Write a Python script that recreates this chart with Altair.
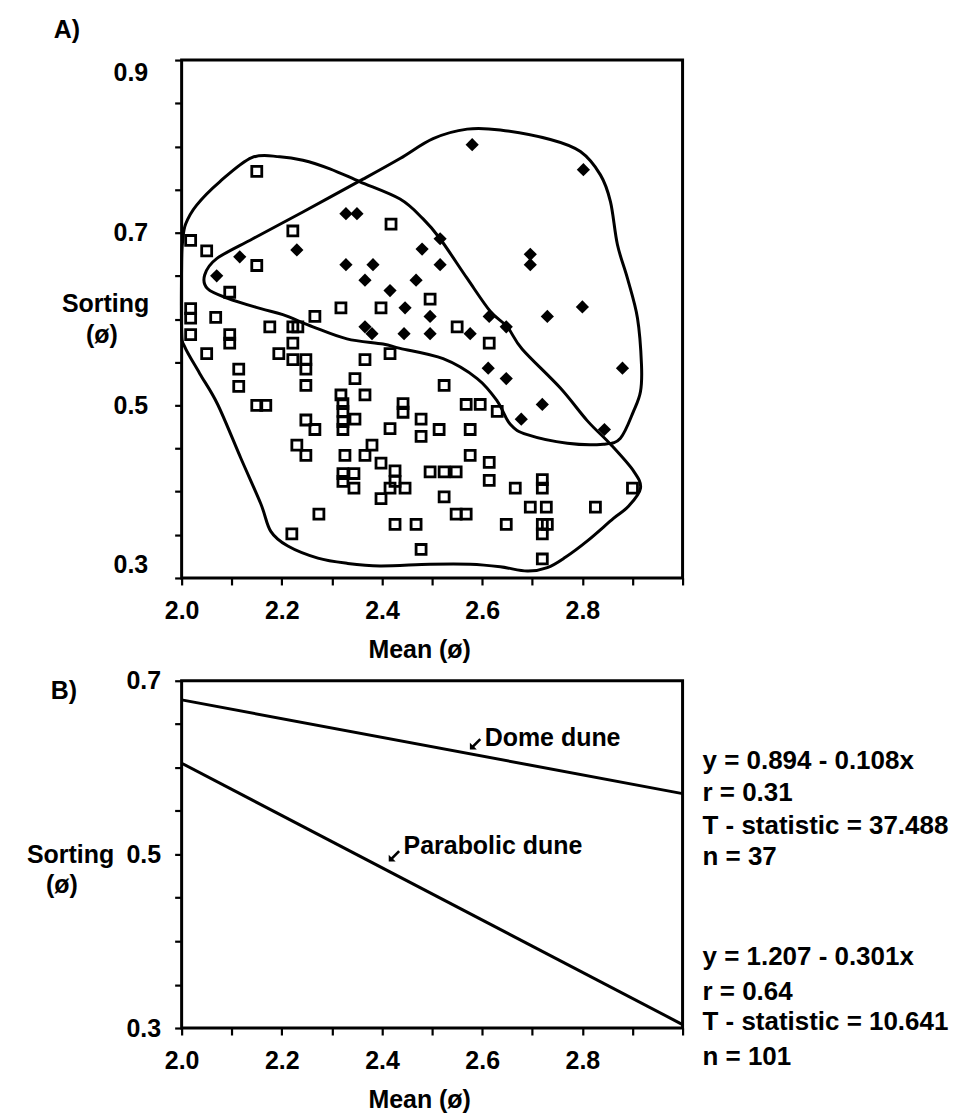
import altair as alt
import pandas as pd

# ---------------- Panel A data ----------------
par_x = [2.150, 2.018, 2.050, 2.222, 2.418, 2.150, 2.096, 2.018, 2.018, 2.018,
         2.068, 2.096, 2.096, 2.050, 2.176, 2.222, 2.232, 2.266, 2.318, 2.398,
         2.496, 2.222, 2.194, 2.222, 2.248, 2.114, 2.114, 2.150, 2.168, 2.248,
         2.248, 2.366, 2.416, 2.550, 2.614, 2.346, 2.366, 2.318, 2.322, 2.322,
         2.346, 2.322, 2.442, 2.442, 2.478, 2.478, 2.248, 2.266, 2.230, 2.248,
         2.326, 2.366, 2.380, 2.416, 2.398, 2.322, 2.344, 2.322, 2.344, 2.426,
         2.426, 2.446, 2.416, 2.398, 2.496, 2.274, 2.220, 2.426, 2.468, 2.478,
         2.514, 2.576, 2.524, 2.568, 2.596, 2.630, 2.576, 2.614, 2.614, 2.666,
         2.524, 2.548, 2.524, 2.548, 2.568, 2.648, 2.720, 2.720, 2.696, 2.728,
         2.720, 2.730, 2.720, 2.720, 2.826, 2.900, 2.322]
par_y = [0.771, 0.691, 0.679, 0.702, 0.710, 0.662, 0.631, 0.612, 0.601, 0.582,
         0.602, 0.582, 0.572, 0.560, 0.591, 0.591, 0.591, 0.603, 0.613, 0.613,
         0.623, 0.572, 0.560, 0.553, 0.553, 0.542, 0.522, 0.500, 0.500, 0.542,
         0.523, 0.553, 0.560, 0.591, 0.572, 0.531, 0.512, 0.512, 0.502, 0.493,
         0.484, 0.472, 0.502, 0.492, 0.484, 0.464, 0.483, 0.472, 0.454, 0.442,
         0.442, 0.442, 0.454, 0.473, 0.433, 0.421, 0.421, 0.412, 0.404, 0.424,
         0.412, 0.404, 0.404, 0.392, 0.423, 0.374, 0.351, 0.362, 0.362, 0.333,
         0.472, 0.472, 0.523, 0.501, 0.501, 0.493, 0.442, 0.434, 0.413, 0.404,
         0.423, 0.423, 0.394, 0.374, 0.374, 0.362, 0.414, 0.404, 0.382, 0.382,
         0.362, 0.362, 0.351, 0.322, 0.382, 0.404, 0.481]

dome_x = [2.580, 2.802, 2.328, 2.350, 2.516, 2.480, 2.230, 2.116, 2.070, 2.328,
          2.382, 2.516, 2.696, 2.696, 2.366, 2.468, 2.416, 2.446, 2.496, 2.614,
          2.648, 2.730, 2.800, 2.366, 2.380, 2.444, 2.496, 2.576, 2.612, 2.648,
          2.720, 2.678, 2.880, 2.844]
dome_y = [0.802, 0.773, 0.722, 0.722, 0.693, 0.681, 0.680, 0.672, 0.650, 0.663,
          0.663, 0.663, 0.675, 0.663, 0.645, 0.645, 0.633, 0.613, 0.603, 0.603,
          0.591, 0.603, 0.614, 0.591, 0.583, 0.583, 0.583, 0.583, 0.543, 0.531,
          0.501, 0.484, 0.543, 0.472]

# hand-drawn envelopes (traced)
par_env_x = [2.002, 2.008, 2.030, 2.076, 2.140, 2.196, 2.242, 2.296, 2.356, 2.436,
             2.482, 2.516, 2.570, 2.616, 2.650, 2.680, 2.756, 2.810, 2.856, 2.902,
             2.916, 2.892, 2.862, 2.810, 2.766, 2.730, 2.690, 2.636, 2.576, 2.496,
             2.396, 2.330, 2.272, 2.212, 2.178, 2.158, 2.118, 2.072, 2.036, 2.006,
             2.000, 2.000]
par_env_y = [0.690, 0.710, 0.732, 0.759, 0.787, 0.788, 0.784, 0.774, 0.759, 0.739,
             0.716, 0.693, 0.647, 0.609, 0.591, 0.565, 0.520, 0.482, 0.455, 0.424,
             0.404, 0.383, 0.369, 0.343, 0.324, 0.312, 0.308, 0.313, 0.316, 0.316,
             0.314, 0.317, 0.323, 0.337, 0.354, 0.386, 0.439, 0.501, 0.537, 0.568,
             0.586, 0.666]

dome_env_x = [2.046, 2.070, 2.142, 2.242, 2.362, 2.436, 2.502, 2.570, 2.636, 2.736,
              2.796, 2.836, 2.856, 2.870, 2.890, 2.910, 2.918, 2.916, 2.902, 2.876,
              2.842, 2.770, 2.690, 2.656, 2.630, 2.590, 2.522, 2.436, 2.402, 2.330,
              2.262, 2.202, 2.158, 2.092, 2.052]
dome_env_y = [0.651, 0.670, 0.693, 0.724, 0.762, 0.786, 0.809, 0.820, 0.819, 0.808,
              0.794, 0.767, 0.736, 0.686, 0.647, 0.601, 0.547, 0.516, 0.493, 0.462,
              0.455, 0.456, 0.466, 0.478, 0.505, 0.531, 0.554, 0.566, 0.571, 0.577,
              0.591, 0.605, 0.612, 0.624, 0.635]

# ---------------- Panel B data ----------------
line_x = [2.0, 3.0]
dome_line_y = [0.678, 0.570]
par_line_y = [0.605, 0.304]

stats_dome = ["y = 0.894 - 0.108x", "r = 0.31", "T - statistic = 37.488", "n = 37"]
stats_par = ["y = 1.207 - 0.301x", "r = 0.64", "T - statistic = 10.641", "n = 101"]

# ---------------- ticks ----------------
x_ticks = [2.0, 2.1, 2.2, 2.3, 2.4, 2.5, 2.6, 2.7, 2.8, 2.9, 3.0]
x_labels = [2.0, 2.2, 2.4, 2.6, 2.8]
ya_ticks = [0.3, 0.35, 0.4, 0.45, 0.5, 0.55, 0.6, 0.65, 0.7, 0.75, 0.8, 0.85, 0.9]
ya_labels = [0.3, 0.5, 0.7, 0.9]
yb_ticks = [0.3, 0.35, 0.4, 0.45, 0.5, 0.55, 0.6, 0.65, 0.7]
yb_labels = [0.3, 0.5, 0.7]

FONT = "Liberation Sans"
FW = "bold"
FS = 25
W = 502
HA = 519
HB = 348

ARROW = ("M-1,1 L-1,-0.1 L-0.6,0.3 L0.5,-0.8 L0.8,-0.5 "
         "L-0.3,0.6 L0.1,1 Z")


def lab_expr(labels, mult):
    arr = "[" + ",".join(repr(v) for v in labels) + "]"
    return (f"indexof({arr}, round(datum.value*{mult})/{mult}) >= 0 ? "
            f"format(datum.value, '.1f') : ''")


def xaxis(title_pad):
    return alt.Axis(values=x_ticks, labelExpr=lab_expr(x_labels, 10), title="Mean (ø)",
                    grid=False, domain=False, tickSize=7, tickWidth=2.2, tickColor="black",
                    labelFontSize=FS, labelFontWeight=FW, labelColor="black",
                    labelPadding=14, labelFlush=False, labelOverlap=False,
                    titleFontSize=FS, titleFontWeight=FW, titleColor="black",
                    titlePadding=title_pad, titleX=238)


def yaxis(ticks, labels, pad, flush):
    return alt.Axis(values=ticks, labelExpr=lab_expr(labels, 100), title=None,
                    grid=False, domain=False, tickSize=7, tickWidth=2.2, tickColor="black",
                    labelFontSize=FS, labelFontWeight=FW, labelColor="black",
                    labelPadding=pad, labelFlush=flush, labelOverlap=False)


xs = alt.Scale(domain=[2.0, 3.0], nice=False, zero=False)
ysa = alt.Scale(domain=[0.3, 0.9], nice=False, zero=False)
ysb = alt.Scale(domain=[0.3, 0.7], nice=False, zero=False)

XA = alt.X("x:Q", scale=xs, axis=xaxis(14))
YA = alt.Y("y:Q", scale=ysa, axis=yaxis(ya_ticks, ya_labels, 27, True))

# ---------------- Panel A ----------------
df_par = pd.DataFrame({"x": par_x, "y": par_y})
df_dome = pd.DataFrame({"x": dome_x, "y": dome_y})
df_env = pd.concat([
    pd.DataFrame({"x": par_env_x, "y": par_env_y, "g": "par", "o": range(len(par_env_x))}),
    pd.DataFrame({"x": dome_env_x, "y": dome_env_y, "g": "dome", "o": range(len(dome_env_x))}),
])

envs = alt.Chart(df_env).mark_line(interpolate="cardinal-closed", color="black",
                                   strokeWidth=3).encode(
    x=XA, y=YA, detail="g:N", order="o:Q")
squares = alt.Chart(df_par).mark_point(shape="square", filled=False, color="black",
                                       strokeWidth=2.8, size=100, opacity=1).encode(x=XA, y=YA)
diamonds = alt.Chart(df_dome).mark_point(shape="diamond", filled=True, color="black",
                                         size=175, opacity=1).encode(x=XA, y=YA)

txtA = pd.DataFrame({"t": ["A)", "Sorting", "(ø)", "Sorting"],
                     "px": [-115, -120, -80, -155], "py": [-30, 244, 276, 244],
                     "al": ["center", "left", "center", "left"],
                     "op": [1, 1, 1, 0]})
labA1 = alt.Chart(txtA[txtA.al == "center"]).mark_text(
    fontSize=FS, fontWeight=FW, color="black", align="center", baseline="middle").encode(
    x=alt.X("px:Q", scale=None), y=alt.Y("py:Q", scale=None), text="t:N",
    opacity=alt.Opacity("op:Q", scale=None))
labA2 = alt.Chart(txtA[txtA.al == "left"]).mark_text(
    fontSize=FS, fontWeight=FW, color="black", align="left", baseline="middle").encode(
    x=alt.X("px:Q", scale=None), y=alt.Y("py:Q", scale=None), text="t:N",
    opacity=alt.Opacity("op:Q", scale=None))

panelA = alt.layer(envs, squares, diamonds, labA1, labA2).properties(width=W, height=HA)

# ---------------- Panel B ----------------
XB = alt.X("x:Q", scale=xs, axis=xaxis(14))
YB = alt.Y("y:Q", scale=ysb, axis=yaxis(yb_ticks, yb_labels, 14, False))

df_lines = pd.DataFrame({"x": line_x + line_x,
                         "y": dome_line_y + par_line_y,
                         "s": ["Dome dune"] * 2 + ["Parabolic dune"] * 2})
linesB = alt.Chart(df_lines).mark_line(color="black", strokeWidth=3).encode(
    x=XB, y=YB, detail="s:N")

df_ann = pd.DataFrame({"t": ["Dome dune", "Parabolic dune"],
                       "x": [2.605, 2.443], "y": [0.634, 0.510],
                       "ax": [2.588, 2.426], "ay": [0.628, 0.499]})
annB = alt.Chart(df_ann).mark_text(fontSize=FS, fontWeight=FW, color="black", align="left",
                                   baseline="middle").encode(
    x=alt.X("x:Q", scale=xs), y=alt.Y("y:Q", scale=ysb), text="t:N")
arrB = alt.Chart(df_ann).mark_point(shape=ARROW, filled=True, color="black",
                                    size=160, opacity=1).encode(
    x=alt.X("ax:Q", scale=xs), y=alt.Y("ay:Q", scale=ysb))

df_stats = pd.DataFrame({"t": stats_dome + stats_par,
                         "py": [80, 112, 146, 177, 277, 312, 342, 377]})
statB = alt.Chart(df_stats).mark_text(fontSize=26, fontWeight=FW, color="black",
                                      align="left", baseline="middle").encode(
    x=alt.value(522), y=alt.Y("py:Q", scale=None), text="t:N")

txtB = pd.DataFrame({"t": ["B)", "Sorting", "(ø)"],
                     "px": [-118, -155, -120], "py": [10, 175, 205],
                     "al": ["center", "left", "center"]})
labB1 = alt.Chart(txtB[txtB.al == "center"]).mark_text(
    fontSize=FS, fontWeight=FW, color="black", align="center", baseline="middle").encode(
    x=alt.X("px:Q", scale=None), y=alt.Y("py:Q", scale=None), text="t:N")
labB2 = alt.Chart(txtB[txtB.al == "left"]).mark_text(
    fontSize=FS, fontWeight=FW, color="black", align="left", baseline="middle").encode(
    x=alt.X("px:Q", scale=None), y=alt.Y("py:Q", scale=None), text="t:N")

panelB = alt.layer(linesB, annB, arrB, statB, labB1, labB2).properties(width=W, height=HB)

chart = alt.vconcat(panelA, panelB, spacing=2).properties(
    padding={"left": 17, "top": 7, "right": 5, "bottom": 5}
).configure(font=FONT).configure_view(stroke="black", strokeWidth=3)

chart.save("out.html", embed_options={"renderer": "svg", "actions": False})
